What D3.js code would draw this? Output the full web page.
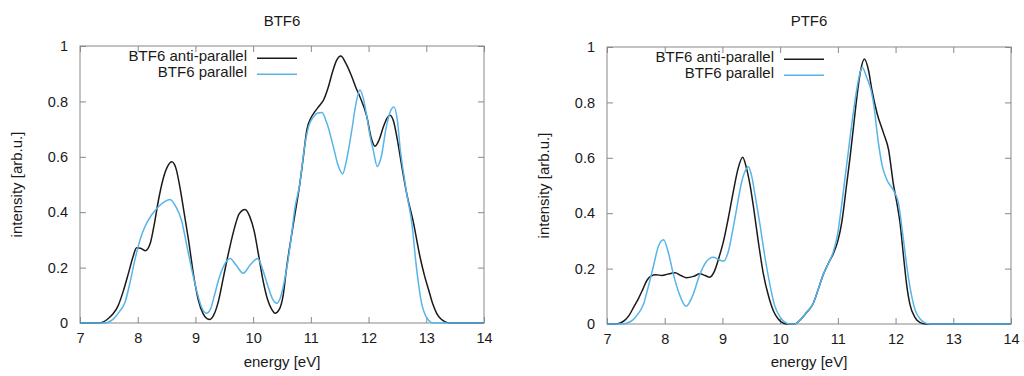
<!DOCTYPE html>
<html>
<head>
<meta charset="utf-8">
<script src="https://cdn.jsdelivr.net/npm/d3@7"></script>
<style>
  body { margin: 0; background: #fff; }
  svg text { font-family: "Liberation Sans", Arial, sans-serif; fill: #1a1a1a; }
</style>
</head>
<body>
<div id="chart"></div>
<script>
// energy [eV], intensity [arb.u.]
const btf6Anti = [
  [7.0,0],[7.3,0],[7.38,0.002],[7.5,0.018],[7.58,0.035],[7.66,0.062],[7.75,0.115],[7.84,0.18],[7.92,0.24],
  [7.98,0.272],[8.05,0.27],[8.13,0.261],[8.22,0.29],[8.29,0.36],[8.36,0.444],[8.44,0.52],[8.52,0.566],
  [8.59,0.582],[8.66,0.56],[8.74,0.48],[8.81,0.39],[8.88,0.30],[8.97,0.17],[9.05,0.083],[9.13,0.035],
  [9.2,0.016],[9.25,0.013],[9.32,0.03],[9.4,0.08],[9.48,0.16],[9.57,0.25],[9.66,0.33],[9.76,0.395],
  [9.86,0.41],[9.94,0.385],[10.02,0.33],[10.09,0.25],[10.17,0.155],[10.25,0.085],[10.32,0.05],
  [10.38,0.035],[10.45,0.048],[10.52,0.10],[10.58,0.2],[10.66,0.31],[10.73,0.4],[10.81,0.504],
  [10.87,0.6],[10.93,0.697],[11.0,0.74],[11.07,0.763],[11.15,0.785],[11.22,0.805],[11.3,0.85],
  [11.38,0.91],[11.45,0.95],[11.52,0.964],[11.6,0.94],[11.71,0.889],[11.78,0.85],[11.85,0.817],
  [11.97,0.745],[12.05,0.665],[12.11,0.638],[12.18,0.66],[12.26,0.71],[12.32,0.74],[12.37,0.75],
  [12.43,0.73],[12.5,0.66],[12.58,0.56],[12.66,0.468],[12.78,0.36],[12.89,0.24],[12.97,0.17],
  [13.04,0.12],[13.11,0.07],[13.18,0.035],[13.25,0.015],[13.32,0.005],[13.4,0],[14,0]
];
const btf6Par = [
  [7.0,0],[7.4,0],[7.49,0.003],[7.58,0.015],[7.68,0.04],[7.78,0.075],[7.86,0.14],[7.95,0.227],
  [8.04,0.30],[8.13,0.35],[8.24,0.39],[8.36,0.42],[8.46,0.437],[8.56,0.446],[8.66,0.42],[8.76,0.37],
  [8.85,0.28],[8.94,0.19],[9.03,0.11],[9.11,0.055],[9.19,0.035],[9.26,0.05],[9.33,0.1],[9.4,0.155],
  [9.5,0.21],[9.6,0.233],[9.7,0.21],[9.83,0.18],[9.95,0.21],[10.08,0.233],[10.17,0.19],[10.26,0.13],
  [10.34,0.085],[10.41,0.071],[10.47,0.09],[10.54,0.15],[10.6,0.22],[10.66,0.31],[10.72,0.41],
  [10.81,0.504],[10.88,0.62],[10.96,0.709],[11.05,0.745],[11.12,0.758],[11.19,0.76],[11.28,0.72],
  [11.39,0.636],[11.47,0.57],[11.55,0.538],[11.62,0.59],[11.71,0.697],[11.78,0.79],[11.85,0.841],
  [11.91,0.81],[11.97,0.745],[12.03,0.67],[12.08,0.625],[12.15,0.565],[12.22,0.6],[12.3,0.7],
  [12.37,0.76],[12.44,0.78],[12.5,0.73],[12.55,0.625],[12.6,0.55],[12.66,0.468],[12.75,0.36],
  [12.83,0.20],[12.88,0.12],[12.92,0.07],[12.98,0.03],[13.04,0.01],[13.12,0],[14,0]
];
const ptf6Anti = [
  [7.0,0],[7.15,0],[7.22,0.003],[7.3,0.012],[7.38,0.03],[7.46,0.06],[7.54,0.09],[7.62,0.125],
  [7.69,0.157],[7.76,0.173],[7.85,0.178],[7.95,0.175],[8.05,0.18],[8.18,0.185],[8.28,0.175],
  [8.38,0.167],[8.5,0.172],[8.61,0.181],[8.7,0.175],[8.78,0.169],[8.86,0.19],[8.94,0.24],[9.02,0.30],
  [9.1,0.38],[9.19,0.48],[9.27,0.56],[9.35,0.602],[9.42,0.56],[9.48,0.5],[9.54,0.42],[9.62,0.3],
  [9.71,0.18],[9.8,0.1],[9.88,0.049],[9.96,0.02],[10.06,0.003],[10.15,0],[10.25,0],[10.34,0.013],
  [10.45,0.04],[10.57,0.073],[10.66,0.125],[10.75,0.18],[10.85,0.225],[10.92,0.253],[11.0,0.3],
  [11.07,0.37],[11.15,0.5],[11.21,0.6],[11.27,0.71],[11.33,0.82],[11.39,0.91],[11.46,0.957],
  [11.53,0.917],[11.59,0.845],[11.68,0.76],[11.79,0.69],[11.88,0.628],[11.96,0.508],[12.02,0.44],
  [12.08,0.36],[12.14,0.24],[12.19,0.145],[12.25,0.07],[12.33,0.026],[12.42,0.006],[12.52,0],[14,0]
];
const ptf6Par = [
  [7.0,0],[7.25,0],[7.34,0.003],[7.45,0.015],[7.55,0.04],[7.63,0.07],[7.71,0.13],[7.8,0.205],
  [7.89,0.28],[7.98,0.304],[8.06,0.26],[8.15,0.18],[8.25,0.11],[8.37,0.064],[8.48,0.1],[8.61,0.18],
  [8.72,0.225],[8.84,0.241],[8.94,0.232],[9.02,0.227],[9.1,0.26],[9.18,0.34],[9.25,0.42],[9.33,0.51],
  [9.4,0.555],[9.45,0.568],[9.5,0.54],[9.57,0.46],[9.65,0.36],[9.73,0.25],[9.82,0.145],[9.9,0.07],
  [10.0,0.025],[10.08,0.007],[10.17,0],[10.25,0],[10.34,0.013],[10.45,0.04],[10.57,0.073],
  [10.66,0.125],[10.75,0.18],[10.85,0.225],[10.92,0.26],[11.0,0.33],[11.06,0.42],[11.12,0.52],
  [11.18,0.62],[11.24,0.72],[11.3,0.81],[11.36,0.885],[11.42,0.927],[11.5,0.89],[11.58,0.84],
  [11.63,0.78],[11.68,0.69],[11.77,0.57],[11.85,0.52],[11.96,0.484],[12.05,0.436],[12.13,0.315],
  [12.22,0.171],[12.34,0.05],[12.42,0.02],[12.5,0.005],[12.6,0],[14,0]
];

const seriesNames = ['BTF6 anti-parallel', 'BTF6 parallel'];
const seriesColors = ['#1a1a1a', '#56b4e9'];
const xTicks = [7, 8, 9, 10, 11, 12, 13, 14];
const yTicks = [0, 0.2, 0.4, 0.6, 0.8, 1];
const yTickLabels = ['0', '0.2', '0.4', '0.6', '0.8', '1'];

const width = 1024, height = 376;
const svg = d3.select('#chart').append('svg')
  .attr('width', width)
  .attr('height', height);

function drawPanel(title, data, box) {
  const x = d3.scaleLinear().domain([7, 14]).range([box.left, box.right]);
  const y = d3.scaleLinear().domain([0, 1]).range([box.bottom, box.top]);
  const g = svg.append('g');
  const frameColor = '#888';

  // ticks on all four sides, pointing inward
  const bottom = g.append('g')
    .attr('transform', `translate(0,${box.bottom})`)
    .call(d3.axisBottom(x).tickValues(xTicks).tickSizeInner(-6).tickSizeOuter(0).tickPadding(10)
      .tickFormat(d3.format('d')));
  const top = g.append('g')
    .attr('transform', `translate(0,${box.top})`)
    .call(d3.axisTop(x).tickValues(xTicks).tickSizeInner(-6).tickSizeOuter(0).tickFormat(''));
  const left = g.append('g')
    .attr('transform', `translate(${box.left},0)`)
    .call(d3.axisLeft(y).tickValues(yTicks).tickSizeInner(-6).tickSizeOuter(0).tickPadding(12)
      .tickFormat((d, i) => yTickLabels[i]));
  const right = g.append('g')
    .attr('transform', `translate(${box.right},0)`)
    .call(d3.axisRight(y).tickValues(yTicks).tickSizeInner(-6).tickSizeOuter(0).tickFormat(''));

  [bottom, top, left, right].forEach(a => {
    a.select('.domain').remove();
    a.selectAll('line').attr('stroke', frameColor);
    a.selectAll('text').style('font-size', '14.5px').attr('fill', '#1a1a1a');
  });

  g.append('rect')
    .attr('x', box.left).attr('y', box.top)
    .attr('width', box.right - box.left).attr('height', box.bottom - box.top)
    .attr('fill', 'none').attr('stroke', frameColor).attr('stroke-width', 1);

  const line = d3.line()
    .x(d => x(d[0]))
    .y(d => y(d[1]))
    .curve(d3.curveMonotoneX);

  data.forEach((s, i) => {
    g.append('path')
      .datum(s)
      .attr('d', line)
      .attr('fill', 'none')
      .attr('stroke', seriesColors[i])
      .attr('stroke-width', 1.5)
      .attr('stroke-linejoin', 'round');
  });

  // legend
  seriesNames.forEach((name, i) => {
    const ly = box.legendY + i * 16;
    g.append('text')
      .attr('x', box.legendX - 10)
      .attr('y', ly + 2.5)
      .attr('text-anchor', 'end')
      .style('font-size', '15px')
      .text(name);
    g.append('line')
      .attr('x1', box.legendX).attr('x2', box.legendX + 40)
      .attr('y1', ly).attr('y2', ly)
      .attr('stroke', seriesColors[i])
      .attr('stroke-width', 1.5);
  });

  const cx = (box.left + box.right) / 2;
  g.append('text')
    .attr('x', cx).attr('y', 26)
    .attr('text-anchor', 'middle')
    .style('font-size', '15px')
    .text(title);

  g.append('text')
    .attr('x', cx).attr('y', 367)
    .attr('text-anchor', 'middle')
    .style('font-size', '15px')
    .text('energy [eV]');

  g.append('text')
    .attr('transform', `translate(${box.left - 58},${(box.top + box.bottom) / 2}) rotate(-90)`)
    .attr('text-anchor', 'middle')
    .style('font-size', '15px')
    .text('intensity [arb.u.]');
}

drawPanel('BTF6', [btf6Anti, btf6Par],
  { left: 80, right: 484, top: 46, bottom: 323, legendX: 257, legendY: 58.3 });
drawPanel('PTF6', [ptf6Anti, ptf6Par],
  { left: 607, right: 1011, top: 47, bottom: 324, legendX: 784, legendY: 59.3 });
</script>
</body>
</html>
